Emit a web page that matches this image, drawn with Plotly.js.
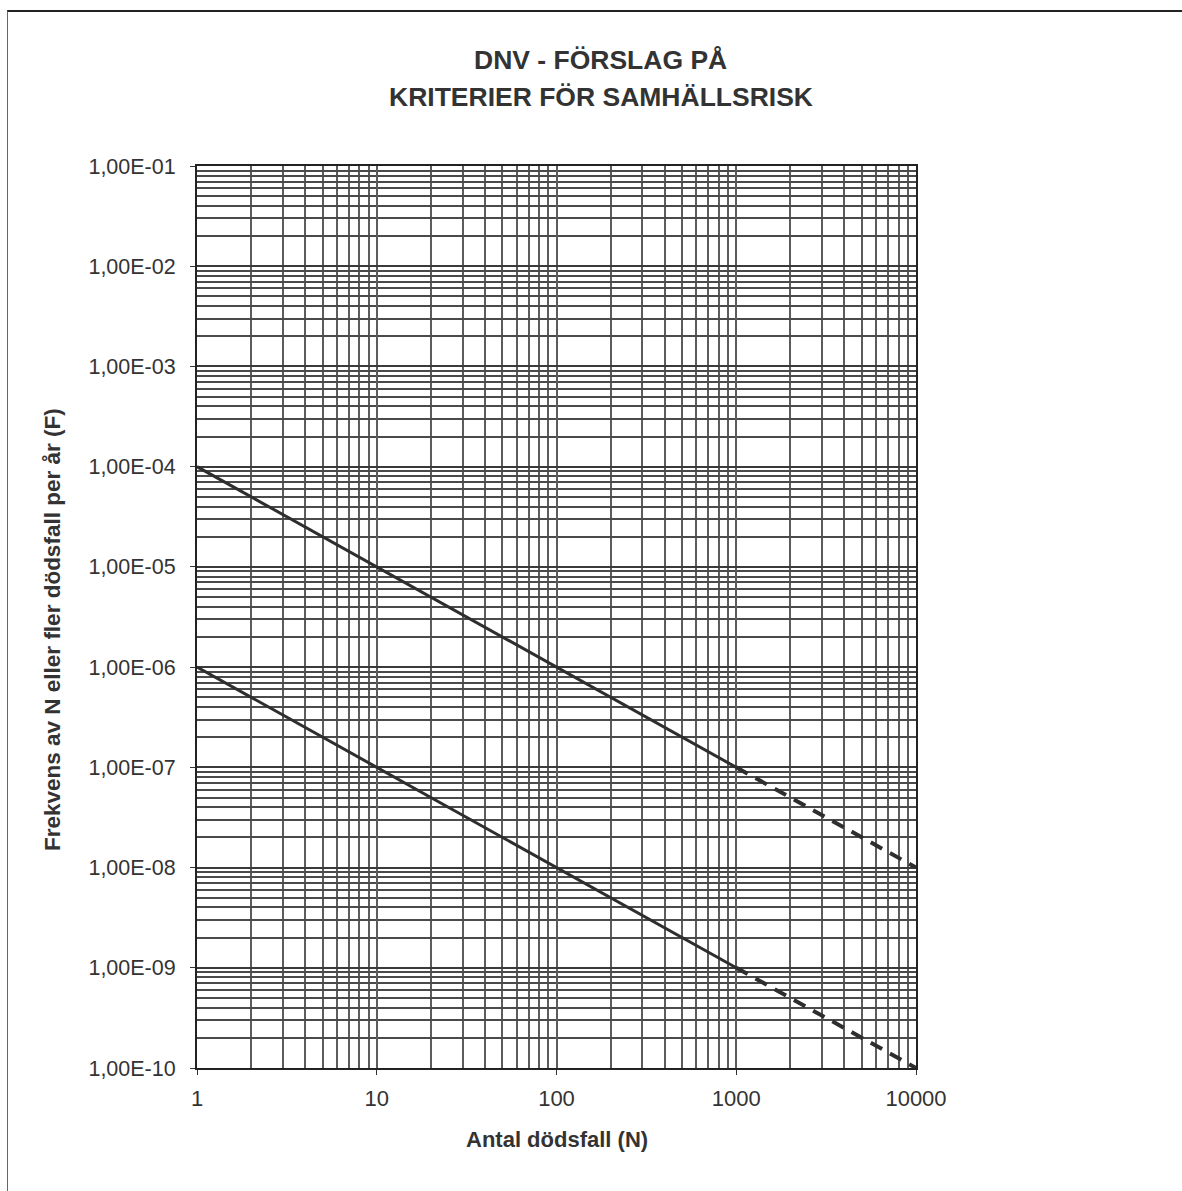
<!DOCTYPE html>
<html>
<head>
<meta charset="utf-8">
<script src="https://cdn.plot.ly/plotly-3.0.1.min.js"></script>
<style>
html,body{margin:0;padding:0;background:#fff;}
#frame{position:absolute;left:7px;top:10px;width:1175px;height:1181px;border-top:2px solid #222;border-left:1.5px solid #666;box-sizing:border-box;pointer-events:none;z-index:10;}
#chart{width:1182px;height:1191px;}
</style>
</head>
<body>
<div id="frame"></div>
<div id="chart"></div>
<script>
// Data
const titleLines = ["DNV - FÖRSLAG PÅ", "KRITERIER FÖR SAMHÄLLSRISK"];
const xAxisTitle = "Antal dödsfall (N)";
const yAxisTitle = "Frekvens av N eller fler dödsfall per år (F)";

const xTickVals = [1, 10, 100, 1000, 10000];
const xTickText = ["1", "10", "100", "1000", "10000"];
const yTickVals = [1e-10, 1e-9, 1e-8, 1e-7, 1e-6, 1e-5, 1e-4, 1e-3, 1e-2, 1e-1];
const yTickText = ["1,00E-10", "1,00E-09", "1,00E-08", "1,00E-07", "1,00E-06",
                   "1,00E-05", "1,00E-04", "1,00E-03", "1,00E-02", "1,00E-01"];

// Upper criterion line
const upperSolidN = [1, 1000];
const upperSolidF = [1e-4, 1e-7];
const upperDashN = [1000, 10000];
const upperDashF = [1e-7, 1e-8];
// Lower criterion line
const lowerSolidN = [1, 1000];
const lowerSolidF = [1e-6, 1e-9];
const lowerDashN = [1000, 10000];
const lowerDashF = [1e-9, 1e-10];

// Minor log-grid positions (2..9 within each decade)
function minorGrid(majors) {
  const out = [];
  for (let i = 0; i < majors.length - 1; i++) {
    for (let k = 2; k <= 9; k++) out.push(majors[i] * k);
  }
  return out;
}

const lineColor = '#2e2e2e';
const vGridColor = '#5c5c5c';
const hGridColor = '#4a4a4a';
const fontFam = 'Liberation Sans, Arial, sans-serif';

const traces = [
  {x: upperSolidN, y: upperSolidF, mode: 'lines', line: {color: lineColor, width: 3}},
  {x: upperDashN, y: upperDashF, mode: 'lines', line: {color: lineColor, width: 4, dash: '13px,9px'}},
  {x: lowerSolidN, y: lowerSolidF, mode: 'lines', line: {color: lineColor, width: 3}},
  {x: lowerDashN, y: lowerDashF, mode: 'lines', line: {color: lineColor, width: 4, dash: '13px,9px'}}
];

const layout = {
  width: 1182, height: 1191,
  margin: {l: 197, r: 266, t: 166, b: 123},
  paper_bgcolor: '#fff', plot_bgcolor: '#fff',
  showlegend: false,
  font: {family: fontFam, color: '#333'},
  xaxis: {
    type: 'log', range: [0, 4],
    tickmode: 'array', tickvals: xTickVals, ticktext: xTickText,
    tickfont: {size: 22, color: '#333', family: fontFam},
    ticks: 'outside', ticklen: 5, tickcolor: '#333', ticklabelstandoff: 5,
    showgrid: true, gridcolor: vGridColor, gridwidth: 2,
    minor: {tickmode: 'array', tickvals: minorGrid(xTickVals), showgrid: true,
            gridcolor: vGridColor, gridwidth: 2, ticks: ''},
    showline: true, linecolor: '#222', linewidth: 2, mirror: true,
    zeroline: false
  },
  yaxis: {
    type: 'log', range: [-10, -1],
    tickmode: 'array', tickvals: yTickVals, ticktext: yTickText,
    tickfont: {size: 21.5, color: '#333', family: fontFam},
    ticks: 'outside', ticklen: 5, tickcolor: '#333', ticklabelstandoff: 10,
    showgrid: true, gridcolor: '#3a3a3a', gridwidth: 2,
    minor: {tickmode: 'array', tickvals: minorGrid(yTickVals), showgrid: true,
            gridcolor: hGridColor, gridwidth: 2, ticks: ''},
    showline: true, linecolor: '#222', linewidth: 2, mirror: true,
    zeroline: false
  },
  annotations: [
    {text: '<b>' + titleLines[0] + '</b>', xref: 'paper', yref: 'paper',
     x: (600 - 197) / 719, y: (1068 - 60) / 902, xanchor: 'center', yanchor: 'middle',
     showarrow: false, font: {size: 26.5, color: '#333', family: fontFam}},
    {text: '<b>' + titleLines[1] + '</b>', xref: 'paper', yref: 'paper',
     x: (601 - 197) / 719, y: (1068 - 97) / 902, xanchor: 'center', yanchor: 'middle',
     showarrow: false, font: {size: 26.5, color: '#333', family: fontFam}},
    {text: '<b>' + xAxisTitle + '</b>', xref: 'paper', yref: 'paper',
     x: (557 - 197) / 719, y: (1068 - 1139) / 902, xanchor: 'center', yanchor: 'middle',
     showarrow: false, font: {size: 22, color: '#333', family: fontFam}},
    {text: '<b>' + yAxisTitle + '</b>', xref: 'paper', yref: 'paper',
     x: (52 - 197) / 719, y: (1068 - 630) / 902, xanchor: 'center', yanchor: 'middle',
     textangle: -90, showarrow: false, font: {size: 22.5, color: '#333', family: fontFam}}
  ]
};

Plotly.newPlot('chart', traces, layout, {staticPlot: true, displayModeBar: false});
</script>
</body>
</html>
